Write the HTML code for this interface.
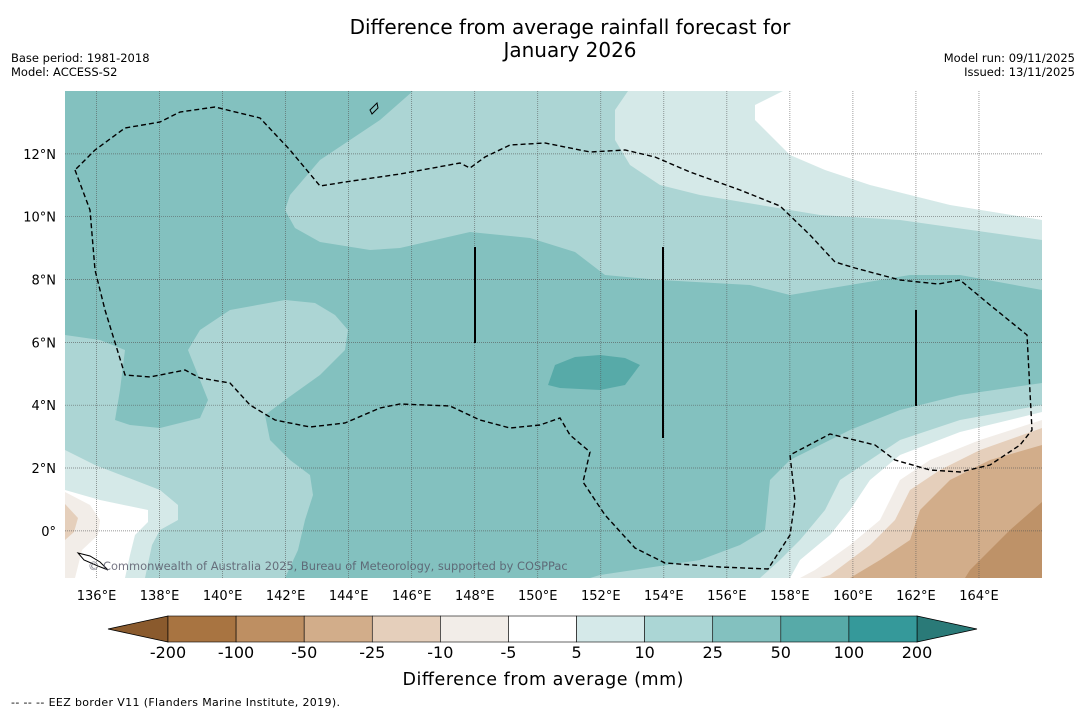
<!DOCTYPE html>
<html><head><meta charset="utf-8"><style>
body{margin:0;background:#fff;font-family:"DejaVu Sans","Liberation Sans",sans-serif;}
svg{display:block}
</style></head><body>
<svg width="1085" height="713" id="svg">
<defs><clipPath id="mc"><rect x="65" y="91" width="977" height="487"/></clipPath></defs>
<text x="570" y="34" font-size="20" text-anchor="middle">Difference from average rainfall forecast for</text>
<text x="570" y="57" font-size="20" text-anchor="middle">January 2026</text>
<text x="11" y="62" font-size="11.5">Base period: 1981-2018</text>
<text x="11" y="76" font-size="11.5">Model: ACCESS-S2</text>
<text x="1075" y="62" font-size="11.5" text-anchor="end">Model run: 09/11/2025</text>
<text x="1075" y="76" font-size="11.5" text-anchor="end">Issued: 13/11/2025</text>
<g clip-path="url(#mc)">
<rect x="65" y="91" width="977" height="487" fill="#83c1bf"/>
<path fill="#acd5d4" d="M413,91 L380,120 L320,160 L290,195 L285,210 L295,228 L320,242 L370,250 L400,248 L470,232 L530,238 L575,252 L605,275 L660,280 L750,285 L790,295 L850,285 L910,275 L960,275 L1042,290 L1042,91 Z"/>
<path fill="#acd5d4" d="M65,335 L100,340 L125,350 L120,390 L115,420 L130,425 L160,428 L200,418 L208,400 L188,350 L200,330 L230,310 L285,300 L315,303 L335,315 L348,330 L345,350 L320,375 L285,400 L265,415 L270,440 L290,460 L310,475 L313,495 L305,520 L298,550 L285,578 L65,578 Z"/>
<path fill="#83c1bf" d="M65,232 L75,250 L72,262 L65,266 Z"/>
<path fill="#acd5d4" d="M1042,383 L960,395 L900,410 L850,430 L810,450 L790,460 L770,480 L765,530 L740,545 L700,560 L600,575 L590,578 L1042,578 Z"/>
<path fill="#d5e9e8" d="M628,91 L615,110 L615,140 L630,165 L660,185 L700,195 L760,205 L820,215 L900,220 L1042,240 L1042,91 Z"/>
<path fill="#ffffff" d="M783,91 L755,105 L755,120 L770,135 L790,155 L825,170 L870,185 L950,205 L1042,220 L1042,91 Z"/>
<path fill="#57aaa8" d="M548,385 L555,365 L575,357 L600,355 L625,358 L640,365 L625,385 L600,390 L560,388 Z"/>
<path fill="#d5e9e8" d="M1042,405 L960,420 L900,440 L870,460 L840,480 L825,510 L800,540 L780,560 L760,578 L1042,578 Z"/>
<path fill="#ffffff" d="M1042,412 L960,432 L900,455 L870,480 L850,510 L830,535 L800,560 L790,578 L1042,578 Z"/>
<path fill="#f2ede8" d="M1042,420 L980,440 L930,460 L900,480 L880,520 L850,545 L815,570 L800,578 L1042,578 Z"/>
<path fill="#e5cfbb" d="M1042,428 L980,450 L940,470 L910,490 L895,520 L870,545 L830,575 L820,578 L1042,578 Z"/>
<path fill="#d2ad8a" d="M1042,445 L990,460 L950,480 L920,510 L910,540 L880,560 L850,578 L1042,578 Z"/>
<path fill="#be9268" d="M1042,502 L1010,530 L990,550 L970,570 L965,578 L1042,578 Z"/>
<path fill="#d5e9e8" d="M65,450 L95,465 L160,490 L178,505 L178,520 L160,530 L152,545 L145,578 L65,578 Z"/>
<path fill="#ffffff" d="M65,490 L100,500 L148,510 L148,522 L135,535 L130,555 L125,578 L65,578 Z"/>
<path fill="#f2ede8" d="M65,492 L90,505 L100,520 L98,535 L82,550 L75,578 L65,578 Z"/>
<path fill="#e5cfbb" d="M65,504 L78,518 L74,532 L65,540 Z"/>
<g id="grid"></g>
<polyline fill="none" stroke="#000" stroke-width="1.4" stroke-dasharray="5,3" points="75,170 90,210 95,270 105,310 125,375 150,377 185,370 200,378 230,383 250,405 275,420 310,427 345,423 380,408 400,404 450,406 480,420 510,428 540,425 560,418 570,435 590,452 583,482 605,515 635,548 665,563 720,567 768,569 790,535 795,500 790,455 830,434 875,445 895,460 930,470 960,472 990,465 1020,445 1032,430 1027,335 990,305 960,280 938,284 900,280 855,268 835,262 810,235 780,206 740,190 690,172 655,157 625,150 590,152 545,143 510,145 485,157 470,168 460,163 400,174 345,182 320,186 290,150 260,118 215,107 180,112 160,122 125,128 95,150 75,170"/>
<line x1="475" y1="247" x2="475" y2="343" stroke="#000" stroke-width="2"/>
<line x1="663" y1="247" x2="663" y2="438" stroke="#000" stroke-width="2"/>
<line x1="916" y1="310" x2="916" y2="406" stroke="#000" stroke-width="2"/>
<path d="M78,553 L90,556 L100,562 L108,570 L98,566 L84,560 Z" fill="none" stroke="#000" stroke-width="1"/>
<path d="M370,110 L377,103 L378,108 L372,114 Z" fill="none" stroke="#000"/>
<text x="88" y="570" font-size="11.4" fill="#556" opacity="0.8">© Commonwealth of Australia 2025, Bureau of Meteorology, supported by COSPPac</text>
</g>
<g id="ticks"></g>
<g id="cbar"></g>
<text x="543" y="685" font-size="17.5" text-anchor="middle" textLength="281">Difference from average (mm)</text>
<text x="11" y="706" font-size="11" textLength="329">--  --  -- EEZ border V11 (Flanders Marine Institute, 2019).</text>
</svg>
<script>
const lonTicks=[136,138,140,142,144,146,148,150,152,154,156,158,160,162,164];
const latTicks=[0,2,4,6,8,10,12];
const cbLabels=["-200","-100","-50","-25","-10","-5","5","10","25","50","100","200"];
const cbColors=["#a87441","#be8f62","#d2ad8a","#e5cfbb","#f2ede8","#ffffff","#d5e9e9","#abd6d5","#83c1bf","#57aaa8","#35999a"];
const lonMin=135,lonMax=166,latMin=-1.5,latMax=14;
const X0=65,X1=1042,Y0=578,Y1=91;
const xs=l=>X0+(l-lonMin)/(lonMax-lonMin)*(X1-X0);
const ys=l=>Y0-(l-latMin)/(latMax-latMin)*(Y0-Y1);
const NS="http://www.w3.org/2000/svg";
function mk(t,a,p){const e=document.createElementNS(NS,t);for(const k in a)e.setAttribute(k,a[k]);p.appendChild(e);return e;}
const g=document.getElementById('grid'),tk=document.getElementById('ticks'),cb=document.getElementById('cbar');
lonTicks.forEach(l=>{
 const x=xs(l);
 const ln=mk('line',{x1:x,x2:x,y1:Y1,y2:Y0,stroke:'#555','stroke-width':0.7,'stroke-dasharray':'1,1',opacity:0.8},g);
 
 
 const t=mk('text',{x:x,y:600,'font-size':13,'text-anchor':'middle'},tk);t.textContent=l+'°E';
 
 
});
latTicks.forEach(l=>{
 const y=ys(l);
 const ln=mk('line',{x1:X0,x2:X1,y1:y,y2:y,stroke:'#555','stroke-width':0.7,'stroke-dasharray':'1,1',opacity:0.8},g);
 
 
 const t=mk('text',{x:56,y:y+5,'font-size':13,'text-anchor':'end'},tk);t.textContent=l===0?'0°':l+'°N';
 
 
});
const cx0=168,cx1=917,cy=616,ch=26,bw=(cx1-cx0)/cbColors.length;
const lo=mk('polygon',{points:`${cx0},${cy} ${cx0},${cy+ch} 108,${cy+ch/2}`,fill:'#8a5a2d',stroke:'#000','stroke-width':0.8},cb);


const hi=mk('polygon',{points:`${cx1},${cy} ${cx1},${cy+ch} 977,${cy+ch/2}`,fill:'#2a7a78',stroke:'#000','stroke-width':0.8},cb);


cbColors.forEach((c,i)=>{
 const r=mk('rect',{x:cx0+i*bw,y:cy,width:bw,height:ch,fill:c,stroke:'#000','stroke-width':0.6},cb);
 
 
});
cbLabels.forEach((s,i)=>{
 const t=mk('text',{x:cx0+i*bw,y:658,'font-size':16,'text-anchor':'middle'},cb);t.textContent=s;
 
 
});
</script>
</body></html>
